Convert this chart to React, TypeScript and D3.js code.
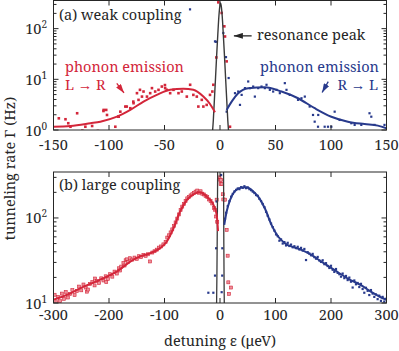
import React from "react";
import * as d3 from "d3";

const RED = "#d3263a";
const RED_FILL = "#ee8f99";
const BLUE = "#283a8c";
const INK = "#262626";
const TXT = { fontFamily: '"Noto Serif", serif' };

// (a) weak coupling: measured rates, L -> R (red)
const weakRedEps = [-145.2, -139.2, -136.7, -134.7, -128.7, -124, -121.3, -115.2, -110, -105, -104.8, -102.5, -101.8, -94.3, -91.6, -91.3, -89.8, -85.3, -84, -80.8, -78.1, -77.9, -74.8, -73.4, -72.1, -70.3, -68.9, -65.8, -62.9, -61.3, -58.4, -55.4, -52.4, -49.6, -49.4, -47.9, -44.9, -41.9, -37.4, -34.4, -29.9, -26.9, -24, -20.9, -19.5, -16.4, -15, -12, -9, -6.9, -6, -3.3, -1.5, 1.5, 3.9, 4.5, 6, 9];
const weakRedRate = [1.7, 1.63, 1.36, 1.16, 2.14, 0.97, 1.16, 1.2, 0.96, 2.37, 2.49, 2.49, 1.98, 1.16, 1.83, 1.83, 2.3, 2.9, 2.9, 2.69, 3.63, 3.38, 5.33, 3.93, 6.2, 4.56, 5.74, 4.56, 5.33, 6.7, 5.74, 6.2, 7.2, 7.7, 6.7, 6.2, 5.33, 6.2, 5.33, 5.74, 4.56, 7.8, 4.93, 4.56, 2.9, 3.93, 2.9, 3.13, 4.93, 5.74, 7.8, 27, 330, 204, 111, 70, 22.6, 1.16];

// (a) weak coupling: measured rates, R -> L (blue)
const weakBlueEps = [-27, -4.5, -3.6, 3, 5.4, 6, 7.8, 13.5, 16.4, 18, 19.5, 22.5, 25.4, 27, 29.9, 31.4, 34.4, 37.4, 40.4, 41.9, 44.9, 47.9, 50.9, 53.9, 58.4, 59.9, 62.9, 70.3, 73.4, 76.4, 80.8, 83.8, 85.3, 88.3, 88.5, 94.3, 97.3, 100.3, 103.3, 107.8, 118.3, 121.3, 127.3, 134.7, 136.3, 139.2, 148.2];
const weakBlueRate = [240, 56, 55, 82, 27.4, 2.3, 10.6, 5.33, 5.74, 3.13, 4.93, 6.7, 9.06, 6.7, 7.2, 4.56, 6.7, 7.2, 6.7, 7.8, 6.2, 5.74, 6.2, 5.33, 8.4, 6.2, 4.93, 3.93, 4.23, 4.56, 2.9, 1.98, 1.46, 1.16, 1.98, 1.16, 1.16, 1.16, 2.3, 1.58, 1.36, 1.26, 1.26, 2.14, 1.83, 1.26, 1.26];

// (a) fits
const weakRedFitEps = [-150, -134.7, -116.8, -107.8, -92.8, -80.8, -68.9, -56.9, -44.9, -33, -24, -15, -9, -4.5];
const weakRedFitRate = [1.16, 1.2, 1.36, 1.46, 1.83, 2.49, 3.63, 4.93, 6.2, 6.5, 6.2, 4.56, 3.26, 2.24];
const weakBlueFitEps = [6, 10.5, 16.4, 25.4, 40.4, 55.4, 70.3, 85.3, 100.3, 115.2, 130.2, 142.2, 150];
const weakBlueFitRate = [2.49, 3.63, 5.33, 6.7, 7.0, 5.74, 4.23, 2.69, 1.83, 1.46, 1.31, 1.22, 1.08];
const weakPeakEps = [-6.8, -6, -5, -4, -3, -2, -1, 0, 0.5, 1, 2, 3, 4, 5, 6, 7, 7.8];
const weakPeakRate = [0.9, 1.58, 4.2, 11, 30, 75, 175, 290, 320, 290, 175, 75, 30, 11, 4.2, 1.58, 0.9];

// (b) large coupling: measured rates, red
const largeRedEps = [-298, -295, -292, -288, -285, -281, -278, -274, -270, -266, -262, -258, -254, -250, -246, -242, -240, -238, -234, -230, -226, -225, -222, -218, -214, -210, -206, -205, -202, -198, -194, -190, -186, -182, -180, -178, -174, -172, -170, -168, -166, -162, -158, -154, -150, -146, -142, -138, -134, -130, -126, -122, -118, -114, -110, -106, -102, -98, -95, -92, -89, -86, -83, -80, -77, -74, -71, -68, -65, -62, -59, -56, -53, -50, -47, -44, -41, -38, -35, -32, -29, -26, -23, -20, -17, -14, -11, -9, -7, -5, -6, -1, 0, 1, 2, 3, 5, 6, 9, 12, 13.8, 15, 16.2, 19.8];
const largeRedRate = [12.5, 10.2, 11.8, 10.5, 12.9, 11.2, 13.5, 11.6, 12.8, 14.2, 12.4, 13.8, 15.6, 14.1, 16.5, 15.2, 13.6, 14.4, 16.8, 17.6, 16.1, 19.4, 18.2, 17.2, 19.5, 18.4, 20.6, 17.6, 19.2, 21.8, 20.4, 23.4, 22.2, 25.6, 24.1, 26.8, 29.5, 27.6, 31.8, 32.6, 30.2, 33.6, 32.4, 34.2, 33.1, 35.5, 34.6, 36.8, 35.9, 37.4, 30.8, 39.2, 40.6, 42.4, 44.8, 46.2, 48.9, 52.4, 58.8, 62.5, 67.6, 73.4, 80.2, 88.6, 98.4, 110, 124, 136, 146, 158, 170, 176, 184, 190, 196, 204, 210, 198, 206, 193, 189, 182, 176, 165, 158, 148, 131, 125, 104, 90, 164, 300, 282, 250, 280, 250, 190, 165, 164, 72.5, 36, 17.5, 12.8, 15.2];

// (b) large coupling: measured rates, blue
const largeBlueEps = [-21, -12, -9, -7, -6, 2, 3, 4, 4.2, 9, 11, 14, 17, 20, 23, 26, 29, 32, 35, 38, 41, 44, 47, 50, 53, 56, 59, 62, 65, 68, 71, 74, 77, 80, 83, 86, 89, 92, 95, 98, 101, 104, 107, 110, 113, 116, 119, 122, 125, 128, 131, 134, 137, 140, 143, 146, 149, 152, 155, 158, 161, 164, 167, 170, 173, 176, 179, 182, 185, 188, 191, 194, 197, 200, 203, 206, 209, 212, 215, 218, 221, 224, 227, 230, 233, 236, 239, 242, 245, 248, 251, 254, 257, 260, 263, 266, 269, 272, 275, 278, 281, 284, 287, 290, 293, 296, 299];
const largeBlueRate = [13.2, 13.2, 21, 44, 156, 320, 13.4, 21, 44, 98, 115, 138, 158, 178, 192, 205, 214, 222, 218, 230, 226, 236, 224, 228, 218, 212, 204, 196, 186, 182, 168, 158, 146, 134, 118, 106, 96, 86, 78, 71, 64, 61, 54, 56, 50, 52, 47.5, 51, 46.8, 48.6, 45.2, 46.5, 44.2, 45.8, 42.6, 44.5, 41.4, 43.2, 32, 39.6, 38.2, 36.4, 37.8, 34.6, 33.2, 34.8, 31.6, 30.4, 31.8, 28.6, 29.4, 27.2, 25.8, 27.4, 24.6, 23.2, 25.1, 22.6, 21.8, 20.4, 22.2, 19.6, 20.8, 18.6, 19.9, 17.8, 15.2, 18.4, 16.6, 17.2, 15.4, 16.8, 14.6, 13.2, 15.1, 13.9, 12.4, 14.2, 12.9, 11.8, 12.6, 11.1, 12.2, 10.6, 11.8, 10.4, 11.2];

// (b) fits
const largeRedFitEps = [-300, -275.4, -245.6, -215.6, -185.6, -161.6, -143.7, -125.8, -107.8, -95.8, -83.8, -71.9, -59.8, -47.9, -35.9, -23.9, -12, -6, -3.5];
const largeRedFitRate = [10.9, 12.5, 15.6, 18.8, 23.5, 30.7, 35.3, 38.5, 44.2, 52.9, 75.7, 119, 163, 190, 201, 178, 143, 109, 70];
const largeBlueFitEps = [7.7, 12, 18, 26.9, 39, 48, 57, 68.8, 80.8, 92.8, 104.7, 116.7, 134.7, 146.7, 164.7, 182.7, 206.6, 230.5, 254.5, 272.5, 290.5, 300];
const largeBlueFitRate = [83, 119, 162, 207, 228, 230, 213, 178, 130, 83, 60.5, 50.5, 44.9, 42.2, 36.7, 30.7, 24.3, 19.4, 16.1, 13.5, 11.6, 10.9];
const largePeakEps = [-6.3, -6.0, -5.6, -5.1, -4.2, -2, 1, 4, 6.4, 6.9, 7.3, 7.6, 7.9];
const largePeakRate = [8, 12, 20, 50, 350, 3000, 10000, 3000, 350, 50, 20, 12, 8];

const weakTicks = [-150, -100, -50, 0, 50, 100, 150];
const largeTicks = [-300, -200, -100, 0, 100, 200, 300];

const xWeak = d3.scaleLinear().domain([-150, 150]).range([53.5, 386.5]);
const yWeak = d3.scaleLog().domain([1, 359]).range([130, 0.5]);
const xLarge = d3.scaleLinear().domain([-300, 300]).range([53.5, 386.5]);
const yLarge = d3.scaleLog().domain([10, 347]).range([303, 172]);

function pathOf(x, y, eps, rate, curve = d3.curveMonotoneX) {
  return d3
    .line<number>()
    .x((i) => x(eps[i]))
    .y((i) => y(rate[i]))
    .curve(curve)(eps.map((_, i) => i));
}

function Label({ x, y, children, color = INK, size = 14.5, anchor = "start", transform = undefined }) {
  return (
    <text x={x} y={y} fill={color} fontSize={size} textAnchor={anchor} transform={transform} stroke="none" style={TXT}>
      {children}
    </text>
  );
}

function Axes({ x, y, ticks, labelDy }) {
  const [l, r] = x.range();
  const [b, t] = y.range();
  return (
    <g stroke={INK} strokeWidth={1}>
      {ticks.map((v) => (
        <g key={v}>
          <line x1={x(v)} x2={x(v)} y1={b} y2={b - 5} />
          <line x1={x(v)} x2={x(v)} y1={t} y2={t + 5} />
          <Label x={x(v)} y={b + labelDy} anchor="middle">{String(v)}</Label>
        </g>
      ))}
      {y.ticks().map((v) => {
        const e = Math.round(Math.log10(v));
        const major = Math.abs(Math.log10(v) - e) < 1e-9;
        const len = major ? 5 : 3;
        return (
          <g key={v}>
            <line x1={l} x2={l + len} y1={y(v)} y2={y(v)} />
            <line x1={r} x2={r - len} y1={y(v)} y2={y(v)} />
            {major && (
              <Label x={47} y={y(v) + 5.5} anchor="end">
                10<tspan dy={-6} fontSize={10}>{e}</tspan>
              </Label>
            )}
          </g>
        );
      })}
      <rect x={l} y={t} width={r - l} height={b - t} fill="none" />
    </g>
  );
}

function Dots({ x, y, eps, rate, size, fill, stroke = undefined }) {
  return (
    <g>
      {eps.map((e, i) => (
        <rect
          key={i}
          x={x(e) - size / 2}
          y={y(rate[i]) - size / 2}
          width={size}
          height={size}
          fill={fill}
          stroke={stroke}
          strokeWidth={stroke ? 0.6 : 0}
        />
      ))}
    </g>
  );
}

function Arrow({ x, y, from, to, color, id }) {
  return (
    <g>
      <defs>
        <marker id={id} markerUnits="userSpaceOnUse" markerWidth={9} markerHeight={6} refX={9} refY={3} orient="auto">
          <path d="M0,0 L9,3 L0,6 Z" fill={color} />
        </marker>
      </defs>
      <line
        x1={x(from[0])}
        y1={y(from[1])}
        x2={x(to[0])}
        y2={y(to[1])}
        stroke={color}
        strokeWidth={1.3}
        markerEnd={`url(#${id})`}
      />
    </g>
  );
}

export default function App() {
  const [aL, aR] = xWeak.range();
  const [aB, aT] = yWeak.range();
  const [bB, bT] = yLarge.range();
  return (
    <svg width={399} height={351} style={{ position: "absolute", left: 0, top: 0, background: "#fff" }}>
      <defs>
        <clipPath id="clipA">
          <rect x={aL} y={aT} width={aR - aL} height={aB - aT} />
        </clipPath>
        <clipPath id="clipB">
          <rect x={aL} y={bT} width={aR - aL} height={bB - bT} />
        </clipPath>
      </defs>

      {/* (a) weak coupling */}
      <g clipPath="url(#clipA)">
        <Dots x={xWeak} y={yWeak} eps={weakRedEps} rate={weakRedRate} size={2.6} fill={RED} />
        <Dots x={xWeak} y={yWeak} eps={weakBlueEps} rate={weakBlueRate} size={2.2} fill={BLUE} />
        <path d={pathOf(xWeak, yWeak, weakPeakEps, weakPeakRate)} fill="none" stroke="#3a3a3a" strokeWidth={1.4} />
        <path d={pathOf(xWeak, yWeak, weakRedFitEps, weakRedFitRate)} fill="none" stroke={RED} strokeWidth={2} />
        <path d={pathOf(xWeak, yWeak, weakBlueFitEps, weakBlueFitRate)} fill="none" stroke={BLUE} strokeWidth={2} />
      </g>
      <Axes x={xWeak} y={yWeak} ticks={weakTicks} labelDy={20} />
      <Label x={59} y={19.5}>(a) weak coupling</Label>
      <Label x={65} y={71.5} color={RED}>phonon emission</Label>
      <Label x={65} y={90} color={RED}>L → R</Label>
      <Arrow x={xWeak} y={yWeak} from={[-93, 8.3]} to={[-86.5, 5.4]} color={RED} id="arrRed" />
      <Label x={257} y={40}>resonance peak</Label>
      <Arrow x={xWeak} y={yWeak} from={[28.5, 72]} to={[12.5, 72]} color={INK} id="arrInk" />
      <Label x={260} y={71.5} color={BLUE}>phonon emission</Label>
      <Label x={378} y={90} color={BLUE} anchor="end">R → L</Label>
      <Arrow x={xWeak} y={yWeak} from={[97.5, 9]} to={[92, 5.5]} color={BLUE} id="arrBlue" />

      {/* (b) large coupling */}
      <g clipPath="url(#clipB)">
        <Dots x={xLarge} y={yLarge} eps={largeRedEps} rate={largeRedRate} size={3} fill={RED_FILL} stroke={RED} />
        <Dots x={xLarge} y={yLarge} eps={largeBlueEps} rate={largeBlueRate} size={2.2} fill={BLUE} />
        <path d={pathOf(xLarge, yLarge, largePeakEps, largePeakRate, d3.curveLinear)} fill="none" stroke="#3a3a3a" strokeWidth={1.3} />
        <path d={pathOf(xLarge, yLarge, largeRedFitEps, largeRedFitRate)} fill="none" stroke={RED} strokeWidth={2} />
        <path d={pathOf(xLarge, yLarge, largeBlueFitEps, largeBlueFitRate)} fill="none" stroke={BLUE} strokeWidth={2} />
      </g>
      <Axes x={xLarge} y={yLarge} ticks={largeTicks} labelDy={17} />
      <Label x={59} y={190}>(b) large coupling</Label>

      <Label x={0} y={0} anchor="middle" transform="translate(15,168.5) rotate(-90)">
        tunneling rate Γ (Hz)
      </Label>
      <Label x={220} y={346} anchor="middle">detuning ε (μeV)</Label>
    </svg>
  );
}
